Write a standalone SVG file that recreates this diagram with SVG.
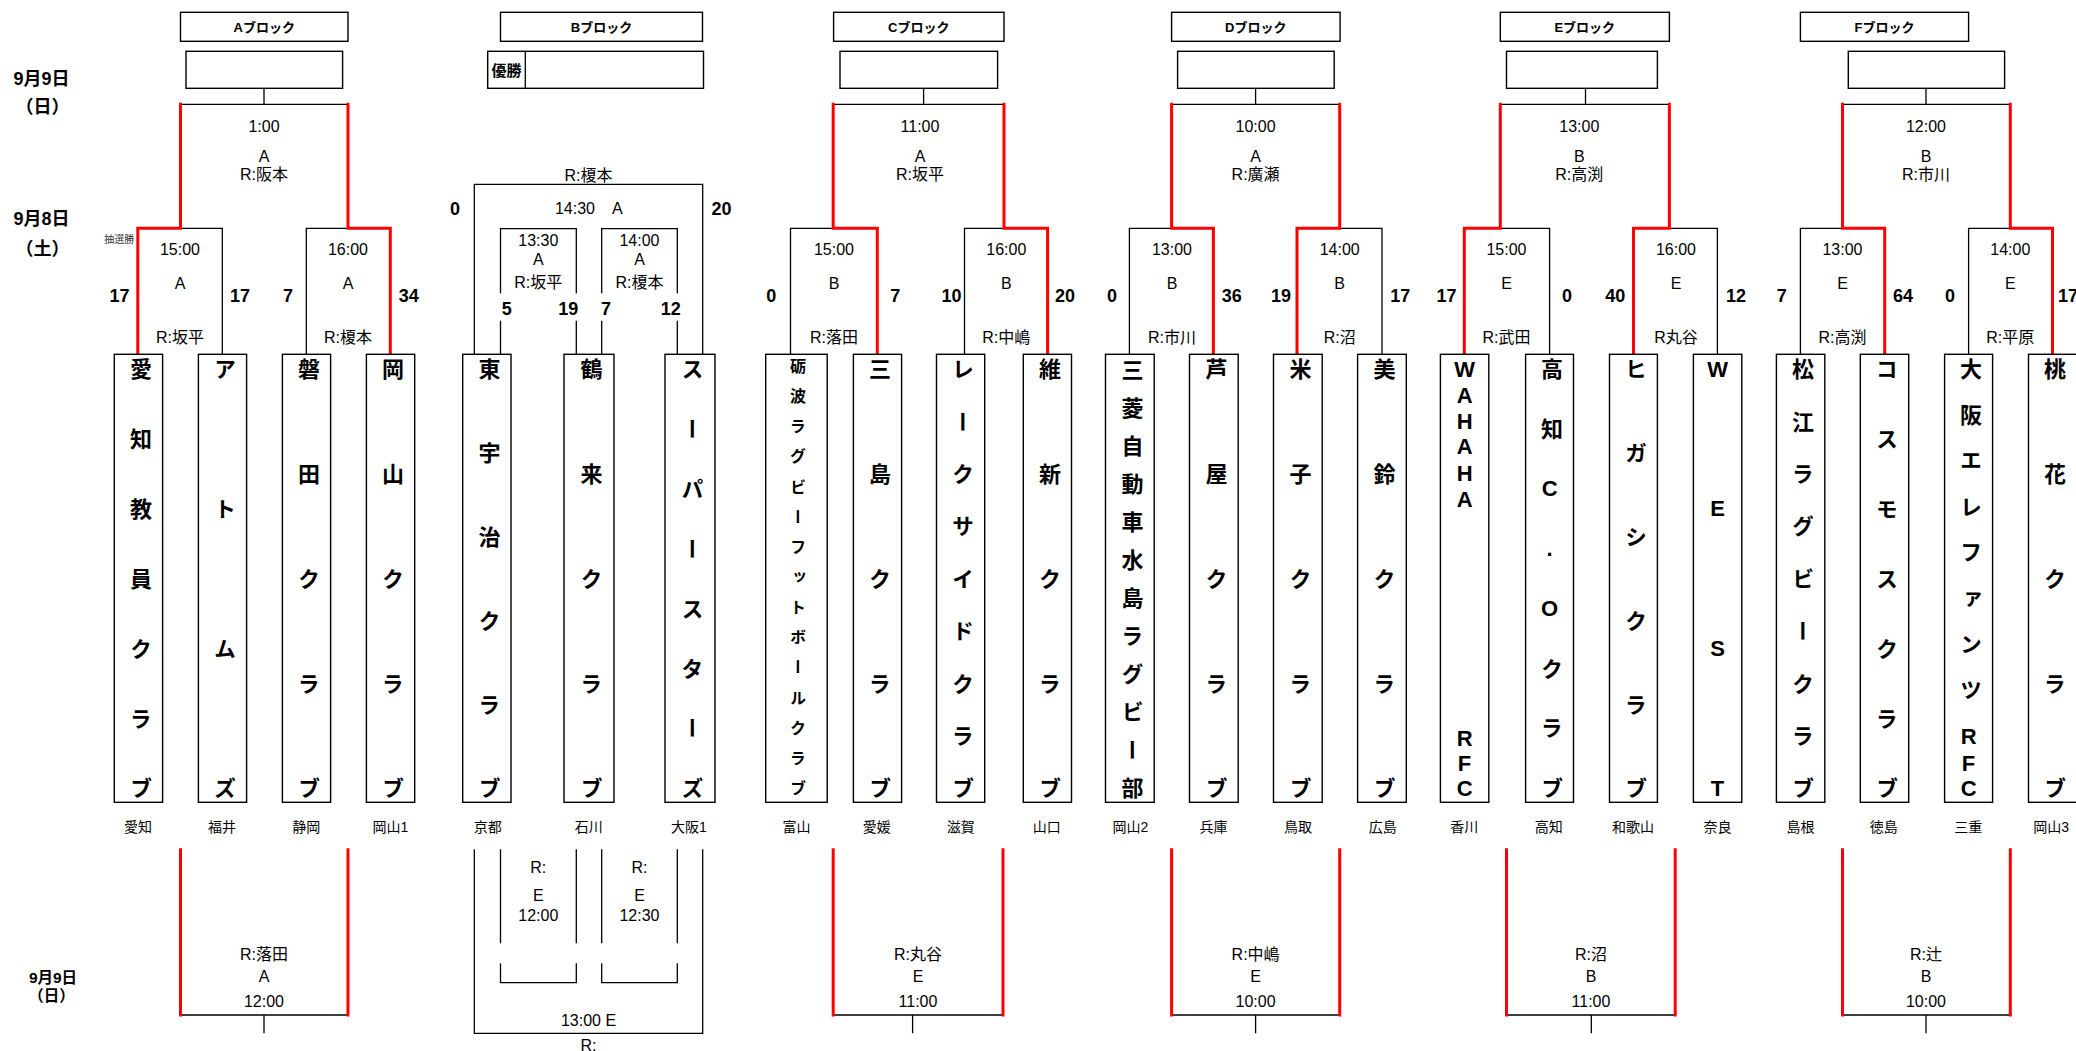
<svg xmlns="http://www.w3.org/2000/svg" width="2076" height="1051" viewBox="0 0 2076 1051">
<style>
.ln{stroke:#000;stroke-width:1.3;fill:none}
.rd{stroke:#f00;stroke-width:3;fill:none;stroke-linejoin:miter}
.bx{fill:#fff;stroke:#000;stroke-width:1.4}
text{font-family:"Liberation Sans","Noto Sans CJK JP",sans-serif;text-anchor:middle;fill:#000}
.t{font-size:16px}
.sc{font-size:18px;font-weight:bold}
.hd{font-size:13px;font-weight:bold}
.pf{font-size:14px}
.dt{font-size:18px;font-weight:bold}
.dt2{font-size:15.5px;font-weight:bold}
.tm{font-size:22px;font-weight:bold;writing-mode:vertical-rl;text-orientation:upright}
.tms{font-size:16px}
</style>
<rect width="2076" height="1051" fill="#fff"/>

<g id="dates">
<text class="dt" x="41.5" y="84.5">9月9日</text>
<text class="dt" x="42.5" y="113">（日）</text>
<text class="dt" x="41.5" y="224.5">9月8日</text>
<text class="dt" x="42.5" y="254.5">（土）</text>
<text class="dt2" x="53" y="982.5">9月9日</text>
<text class="dt2" x="51.5" y="1000.5">（日）</text>
</g>

<g id="block-headers">
<g id="hdr-A"><rect class="bx" x="180.5" y="12.3" width="167.5" height="29"/><text class="hd" x="264.3" y="31.5">Aブロック</text></g>
<g id="hdr-B"><rect class="bx" x="500.5" y="12.3" width="202" height="29"/><text class="hd" x="601.5" y="31.5">Bブロック</text></g>
<g id="hdr-C"><rect class="bx" x="833.6" y="12.3" width="170.4" height="29"/><text class="hd" x="918.8" y="31.5">Cブロック</text></g>
<g id="hdr-D"><rect class="bx" x="1171.6" y="12.3" width="168.5" height="29"/><text class="hd" x="1255.8" y="31.5">Dブロック</text></g>
<g id="hdr-E"><rect class="bx" x="1500.3" y="12.3" width="169.1" height="29"/><text class="hd" x="1584.8" y="31.5">Eブロック</text></g>
<g id="hdr-F"><rect class="bx" x="1800.4" y="12.3" width="168.2" height="29"/><text class="hd" x="1884.5" y="31.5">Fブロック</text></g>
</g>

<g id="winner-boxes">
<g id="win-A"><rect class="bx" x="186" y="51.3" width="156.6" height="37"/></g>
<g id="win-B"><rect class="bx" x="487.7" y="51.3" width="215.8" height="37"/><line class="ln" x1="525.3" y1="51.3" x2="525.3" y2="88.3"/><text class="hd" style="font-size:15px" x="506.5" y="75.5">優勝</text></g>
<g id="win-C"><rect class="bx" x="840" y="51.3" width="157.6" height="37"/></g>
<g id="win-D"><rect class="bx" x="1177.6" y="51.3" width="156.6" height="37"/></g>
<g id="win-E"><rect class="bx" x="1506.5" y="51.3" width="150.9" height="37"/></g>
<g id="win-F"><rect class="bx" x="1848.3" y="51.3" width="156.3" height="37"/></g>
</g>

<g id="connectors">
<path class="ln" d="M264 88.3V104.3M180.5 104.3H348M180.5 228.3H222.3V354.3M306.3 354.3V228.3H348"/>
<path class="ln" d="M474.3 354.3V184.3H702.7V354.3M500.5 293.3V228.7H576.3V293.3M500.5 320.7V354.3M576.3 320.7V354.3M601.7 293.3V228.7H677.3V293.3M601.7 320.7V354.3M677.3 320.7V354.3"/>
<path class="ln" d="M923.6 88.3V104.3M833.2 104.3H1004M790.5 354.3V228.3H833.2M964.5 354.3V228.3H1004"/>
<path class="ln" d="M1255.6 88.3V104.3M1171.6 104.3H1339.7M1129.4 354.3V228.3H1171.6M1339.7 228.3H1382V354.3"/>
<path class="ln" d="M1585.5 88.3V104.3M1500.3 104.3H1669.4M1500.3 228.3H1549.6V354.3M1669.4 228.3H1717.4V354.3"/>
<path class="ln" d="M1926 88.3V104.3M1842.5 104.3H2010.3M1800.4 354.3V228.3H1842.5M1968.6 354.3V228.3H2010.3"/>
<path class="rd" d="M137.8 354.3V228.3H180.5V102.8M348 102.8V228.3H390.3V354.3"/>
<path class="rd" d="M833.2 102.8V228.3H877.3V354.3M1004 102.8V228.3H1047.6V354.3"/>
<path class="rd" d="M1171.6 102.8V228.3H1213.4V354.3M1339.7 102.8V228.3H1297V354.3"/>
<path class="rd" d="M1500.3 102.8V228.3H1464.3V354.3M1669.4 102.8V228.3H1633.5V354.3"/>
<path class="rd" d="M1842.5 102.8V228.3H1884.7V354.3M2010.3 102.8V228.3H2052.5V354.3"/>
<path class="ln" d="M180.5 1015H348M264 1015V1033.3M833.2 1015H1003M912.6 1015V1033.3M1171.6 1015H1339.7M1255.6 1015V1033.3M1506.5 1015H1675.2M1591.3 1015V1033.3M1842.5 1015H2010.3M1926 1015V1033.3"/>
<path class="ln" d="M474.3 849.3V1033.3H702.7V849.3M500.5 849.3V943.3M576.3 849.3V943.3M601.7 849.3V943.3M677.3 849.3V943.3M500.5 963.3V982.7H576.3V963.3M601.7 963.3V982.7H677.3V963.3"/>
<path class="rd" d="M180.5 848.3V1016.5M348 848.3V1016.5M833.2 848.3V1016.5M1003 848.3V1016.5M1171.6 848.3V1016.5M1339.7 848.3V1016.5M1506.5 848.3V1016.5M1675.2 848.3V1016.5M1842.5 848.3V1016.5M2010.3 848.3V1016.5"/>
</g>

<g id="match-labels" class="t">
<text x="264" y="131.5">1:00</text><text x="264" y="161.5">A</text><text x="264" y="180">R:阪本</text>
<text x="180" y="255">15:00</text><text x="180" y="288.5">A</text><text x="180" y="342.5">R:坂平</text>
<text x="348" y="255">16:00</text><text x="348" y="288.5">A</text><text x="348" y="342.5">R:榎本</text>
<text x="119.3" y="243" style="font-size:10px;fill:#333">抽選勝</text>

<text x="588.5" y="181">R:榎本</text><text x="575" y="214">14:30</text><text x="617.3" y="214">A</text>
<text x="538.3" y="246">13:30</text><text x="538.3" y="265">A</text><text x="538.3" y="287.5">R:坂平</text>
<text x="639.5" y="246">14:00</text><text x="639.5" y="265">A</text><text x="639.5" y="287.5">R:榎本</text>

<text x="920" y="131.5">11:00</text><text x="920" y="161.5">A</text><text x="920" y="180">R:坂平</text>
<text x="834" y="255">15:00</text><text x="834" y="288.5">B</text><text x="834" y="342.5">R:落田</text>
<text x="1006.3" y="255">16:00</text><text x="1006.3" y="288.5">B</text><text x="1006.3" y="342.5">R:中嶋</text>

<text x="1255.6" y="131.5">10:00</text><text x="1255.6" y="161.5">A</text><text x="1255.6" y="180">R:廣瀬</text>
<text x="1172" y="255">13:00</text><text x="1172" y="288.5">B</text><text x="1172" y="342.5">R:市川</text>
<text x="1339.7" y="255">14:00</text><text x="1339.7" y="288.5">B</text><text x="1339.7" y="342.5">R:沼</text>

<text x="1579.3" y="131.5">13:00</text><text x="1579.3" y="161.5">B</text><text x="1579.3" y="180">R:高渕</text>
<text x="1506.5" y="255">15:00</text><text x="1506.5" y="288.5">E</text><text x="1506.5" y="342.5">R:武田</text>
<text x="1676" y="255">16:00</text><text x="1676" y="288.5">E</text><text x="1676" y="342.5">R丸谷</text>

<text x="1926" y="131.5">12:00</text><text x="1926" y="161.5">B</text><text x="1926" y="180">R:市川</text>
<text x="1842.5" y="255">13:00</text><text x="1842.5" y="288.5">E</text><text x="1842.5" y="342.5">R:高渕</text>
<text x="2010.3" y="255">14:00</text><text x="2010.3" y="288.5">E</text><text x="2010.3" y="342.5">R:平原</text>

<text x="264" y="960">R:落田</text><text x="264" y="982">A</text><text x="264" y="1006.5">12:00</text>
<text x="538.3" y="872.5">R:</text><text x="538.3" y="901">E</text><text x="538.3" y="921">12:00</text>
<text x="639.5" y="872.5">R:</text><text x="639.5" y="901">E</text><text x="639.5" y="921">12:30</text>
<text x="588.5" y="1026">13:00 E</text><text x="588.5" y="1051">R:</text>
<text x="918" y="960">R:丸谷</text><text x="918" y="982">E</text><text x="918" y="1006.5">11:00</text>
<text x="1255.6" y="960">R:中嶋</text><text x="1255.6" y="982">E</text><text x="1255.6" y="1006.5">10:00</text>
<text x="1591" y="960">R:沼</text><text x="1591" y="982">B</text><text x="1591" y="1006.5">11:00</text>
<text x="1926" y="960">R:辻</text><text x="1926" y="982">B</text><text x="1926" y="1006.5">10:00</text>
</g>

<g id="scores" class="sc">
<text x="119.4" y="301.5">17</text><text x="240" y="301.5">17</text><text x="288" y="301.5">7</text><text x="408.7" y="301.5">34</text>
<text x="455" y="214.5">0</text><text x="721.5" y="214.5">20</text>
<text x="506.7" y="314.5">5</text><text x="568.3" y="314.5">19</text><text x="606" y="314.5">7</text><text x="670.7" y="314.5">12</text>
<text x="771.2" y="301.5">0</text><text x="895.2" y="301.5">7</text><text x="951.6" y="301.5">10</text><text x="1065" y="301.5">20</text>
<text x="1111.9" y="301.5">0</text><text x="1231.8" y="301.5">36</text><text x="1280.9" y="301.5">19</text><text x="1400.3" y="301.5">17</text>
<text x="1446.6" y="301.5">17</text><text x="1566.9" y="301.5">0</text><text x="1615.3" y="301.5">40</text><text x="1736" y="301.5">12</text>
<text x="1781.7" y="301.5">7</text><text x="1902.9" y="301.5">64</text><text x="1950" y="301.5">0</text><text x="2068" y="301.5">17</text>
</g>

<g id="teams">
<g id="team-01"><rect class="bx" x="114.3" y="354.3" width="48.3" height="448"/><text class="tm" x="138.5" y="369 438.8 508.7 578.5 648.3 718.2 788">愛知教員クラブ</text><text class="pf" x="138" y="831.5">愛知</text></g>
<g id="team-02"><rect class="bx" x="198.4" y="354.3" width="48.2" height="448"/><text class="tm" x="222.5" y="369 508.7 648.3 788">アトムズ</text><text class="pf" x="222" y="831.5">福井</text></g>
<g id="team-03"><rect class="bx" x="282.4" y="354.3" width="48.2" height="448"/><text class="tm" x="306.5" y="369 473.8 578.5 683.3 788">磐田クラブ</text><text class="pf" x="306.3" y="831.5">静岡</text></g>
<g id="team-04"><rect class="bx" x="366.4" y="354.3" width="48.3" height="448"/><text class="tm" x="390.5" y="369 473.8 578.5 683.3 788">岡山クラブ</text><text class="pf" x="390.3" y="831.5">岡山1</text></g>
<g id="team-05"><rect class="bx" x="462.7" y="354.3" width="48.3" height="448"/><text class="tm" x="486.9" y="369 452.8 536.6 620.4 704.2 788">東宇治クラブ</text><text class="pf" x="487.7" y="831.5">京都</text></g>
<g id="team-06"><rect class="bx" x="564" y="354.3" width="50" height="448"/><text class="tm" x="589" y="369 473.8 578.5 683.3 788">鶴来クラブ</text><text class="pf" x="588.7" y="831.5">石川</text></g>
<g id="team-07"><rect class="bx" x="665" y="354.3" width="50" height="448"/><text class="tm" x="690" y="369 428.9 488.7 548.6 608.4 668.3 728.1 788">スーパースターズ</text><text class="pf" x="688.8" y="831.5">大阪1</text></g>
<g id="team-08"><rect class="bx" x="765.7" y="354.3" width="61.5" height="448"/><text class="tm tms" x="796.5" y="366 396.1 426.3 456.4 486.6 516.7 546.9 577 607.1 637.3 667.4 697.6 727.7 757.9 788">砺波ラグビーフットボールクラブ</text><text class="pf" x="796.4" y="831.5">富山</text></g>
<g id="team-09"><rect class="bx" x="853.4" y="354.3" width="48.2" height="448"/><text class="tm" x="877.5" y="369 473.8 578.5 683.3 788">三島クラブ</text><text class="pf" x="876.8" y="831.5">愛媛</text></g>
<g id="team-10"><rect class="bx" x="936.5" y="354.3" width="48.2" height="448"/><text class="tm" x="960.6" y="369 421.4 473.8 526.1 578.5 630.9 683.3 735.6 788">レークサイドクラブ</text><text class="pf" x="960.8" y="831.5">滋賀</text></g>
<g id="team-11"><rect class="bx" x="1023.3" y="354.3" width="48.2" height="448"/><text class="tm" x="1047.4" y="369 473.8 578.5 683.3 788">維新クラブ</text><text class="pf" x="1046.7" y="831.5">山口</text></g>
<g id="team-12"><rect class="bx" x="1105.5" y="354.3" width="48.7" height="448"/><text class="tm" x="1129.9" y="370 408 446 484 522 560 598 636 674 712 750 788">三菱自動車水島ラグビー部</text><text class="pf" x="1130.3" y="831.5">岡山2</text></g>
<g id="team-13"><rect class="bx" x="1189.5" y="354.3" width="48.7" height="448"/><text class="tm" x="1213.9" y="369 473.8 578.5 683.3 788">芦屋クラブ</text><text class="pf" x="1213.4" y="831.5">兵庫</text></g>
<g id="team-14"><rect class="bx" x="1273.5" y="354.3" width="48.7" height="448"/><text class="tm" x="1297.9" y="369 473.8 578.5 683.3 788">米子クラブ</text><text class="pf" x="1297.9" y="831.5">鳥取</text></g>
<g id="team-15"><rect class="bx" x="1357.6" y="354.3" width="48.7" height="448"/><text class="tm" x="1382" y="369 473.8 578.5 683.3 788">美鈴クラブ</text><text class="pf" x="1382.8" y="831.5">広島</text></g>
<g id="team-16"><rect class="bx" x="1440.4" y="354.3" width="48.4" height="448"/><text class="tm" x="1464.6" y="369 395 421.7 446.7 473.3 499.3 620 738.3 763.3 788.3">WAHAHA RFC</text><text class="pf" x="1464.3" y="831.5">香川</text></g>
<g id="team-17"><rect class="bx" x="1525.6" y="354.3" width="47.9" height="448"/><text class="tm" x="1549.6" y="369 428.9 488.7 548.6 608.4 668.3 728.1 788">高知C.Oクラブ</text><text class="pf" x="1548.7" y="831.5">高知</text></g>
<g id="team-18"><rect class="bx" x="1609.5" y="354.3" width="47.9" height="448"/><text class="tm" x="1633.5" y="369 452.8 536.6 620.4 704.2 788">ヒガシクラブ</text><text class="pf" x="1633" y="831.5">和歌山</text></g>
<g id="team-19"><rect class="bx" x="1693.4" y="354.3" width="48.4" height="448"/><text class="tm" x="1717.6" y="369 508.7 648.3 788">WEST</text><text class="pf" x="1717.4" y="831.5">奈良</text></g>
<g id="team-20"><rect class="bx" x="1776.4" y="354.3" width="48.4" height="448"/><text class="tm" x="1800.6" y="369 421.4 473.8 526.1 578.5 630.9 683.3 735.6 788">松江ラグビークラブ</text><text class="pf" x="1800.4" y="831.5">島根</text></g>
<g id="team-21"><rect class="bx" x="1860.3" y="354.3" width="48.4" height="448"/><text class="tm" x="1884.5" y="369 438.8 508.7 578.5 648.3 718.2 788">コスモスクラブ</text><text class="pf" x="1883.8" y="831.5">徳島</text></g>
<g id="team-22"><rect class="bx" x="1944.6" y="354.3" width="48" height="448"/><text class="tm" x="1968.6" y="369 415 460 506.7 551.7 598.3 643.3 690 736.7 763.3 788.3">大阪エレファンツRFC</text><text class="pf" x="1968.2" y="831.5">三重</text></g>
<g id="team-23"><rect class="bx" x="2028.5" y="354.3" width="48.5" height="448"/><text class="tm" x="2052.5" y="369 473.8 578.5 683.3 788">桃花クラブ</text><text class="pf" x="2051.2" y="831.5">岡山3</text></g>
</g>
</svg>
